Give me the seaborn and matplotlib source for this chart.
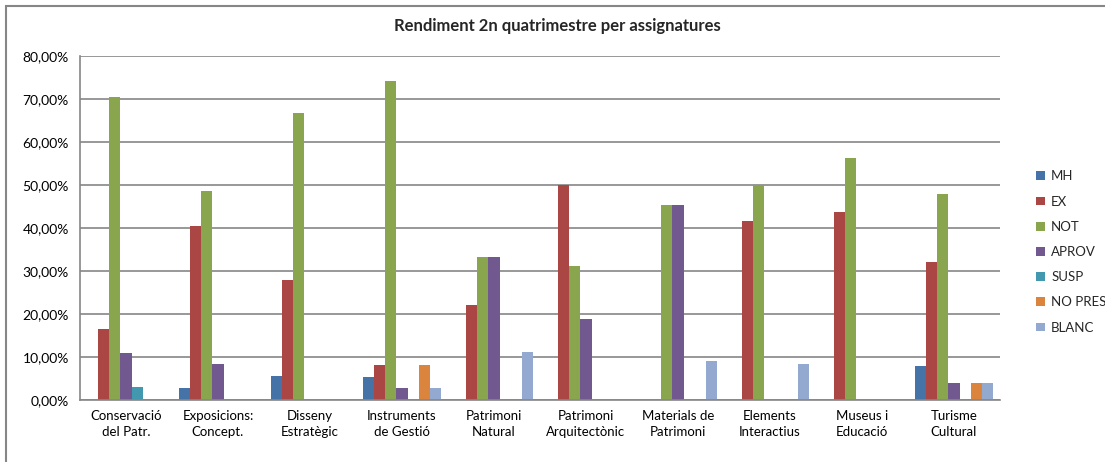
import pandas as pd
import matplotlib
matplotlib.use("Agg")
import matplotlib.pyplot as plt
from matplotlib.ticker import FuncFormatter, MultipleLocator
from matplotlib.patches import Rectangle
import seaborn as sns

# Data (fractions)
categories = [
    "Conservació\ndel Patr.", "Exposicions:\nConcept.", "Disseny\nEstratègic",
    "Instruments\nde Gestió", "Patrimoni\nNatural", "Patrimoni\nArquitectònic",
    "Materials de\nPatrimoni", "Elements\nInteractius", "Museus i\nEducació",
    "Turisme\nCultural",
]
grades = ["MH", "EX", "NOT", "APROV", "SUSP", "NO PRES", "BLANC"]

mh = [0.0, 0.029, 0.056, 0.054, 0.0, 0.0, 0.0, 0.0, 0.0, 0.08]
ex = [0.165, 0.405, 0.278, 0.081, 0.222, 0.50, 0.0, 0.417, 0.4375, 0.32]
nota = [0.705, 0.486, 0.667, 0.743, 0.333, 0.3125, 0.4545, 0.50, 0.5625, 0.48]
aprov = [0.11, 0.083, 0.0, 0.027, 0.333, 0.1875, 0.4545, 0.0, 0.0, 0.04]
susp = [0.03, 0.0, 0.0, 0.0, 0.0, 0.0, 0.0, 0.0, 0.0, 0.0]
no_pres = [0.0, 0.0, 0.0, 0.081, 0.0, 0.0, 0.0, 0.0, 0.0, 0.04]
blanc = [0.0, 0.0, 0.0, 0.027, 0.111, 0.0, 0.0909, 0.083, 0.0, 0.04]

colors = ["#4572A7", "#AA4643", "#89A54E", "#71588F", "#4198AF", "#DB843D", "#93A9CF"]

series = [mh, ex, nota, aprov, susp, no_pres, blanc]
rows = []
for g, vals in zip(grades, series):
    for c, v in zip(categories, vals):
        rows.append({"cat": c, "grade": g, "value": v})
df = pd.DataFrame(rows)

sns.set_style("white")
plt.rcParams["font.family"] = ["Lato", "DejaVu Sans"]

fig = plt.figure(figsize=(11.05, 4.62), dpi=100)
ax = fig.add_axes([80 / 1105, 62 / 462, 920 / 1105, 344 / 462])

sns.barplot(data=df, x="cat", y="value", hue="grade", hue_order=grades,
            order=categories, palette=colors, width=0.84, saturation=1,
            linewidth=0, ax=ax)

ax.set_ylim(0, 0.8)
ax.set_xlim(-0.5, len(categories) - 0.5)
ax.yaxis.set_major_locator(MultipleLocator(0.1))
ax.yaxis.set_major_formatter(FuncFormatter(lambda v, p: f"{v * 100:.2f}%".replace(".", ",")))
ax.grid(axis="y", color="#868686", linewidth=1.2)
ax.set_axisbelow(True)
ax.set_xlabel("")
ax.set_ylabel("")
ax.tick_params(axis="both", length=0, colors="black")
ax.tick_params(axis="x", pad=7, labelsize=9.5)
ax.tick_params(axis="y", pad=8, labelsize=10)
for lab in ax.get_xticklabels():
    lab.set_linespacing(1.45)
for s in ["top", "right"]:
    ax.spines[s].set_visible(False)
for s in ["left", "bottom"]:
    ax.spines[s].set_color("#868686")
    ax.spines[s].set_linewidth(1.2)

ax.legend(loc="center left", bbox_to_anchor=(1 + 36 / 920, 0.43), frameon=False,
          fontsize=9.5, handlelength=0.65, handleheight=0.65,
          handletextpad=0.5, labelspacing=1.0, borderaxespad=0, borderpad=0)

fig.text(557 / 1105, 1 - 26 / 462, "Rendiment 2n quatrimestre per assignatures",
         ha="center", va="center", fontsize=12, fontweight="bold")

# chart area border
fig.patches.append(Rectangle((6 / 1105, -0.1), 1.2, 1 - 6 / 462 + 0.1,
                             transform=fig.transFigure, fill=False,
                             edgecolor="#868686", linewidth=1.5))

fig.savefig("out.png", dpi=100)
